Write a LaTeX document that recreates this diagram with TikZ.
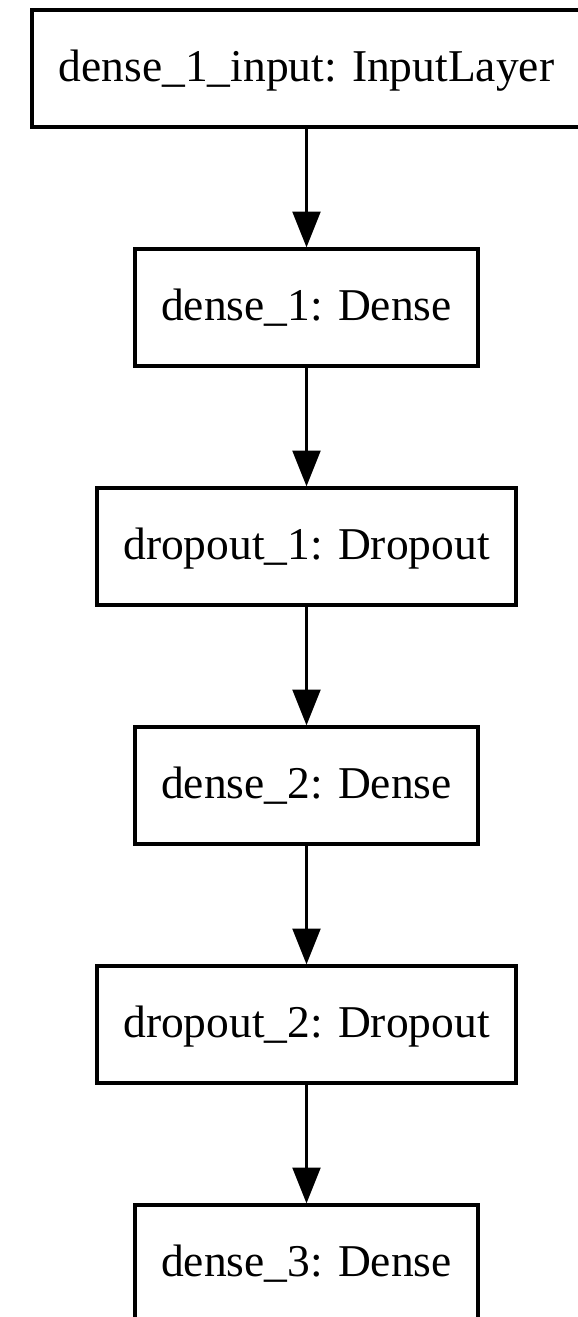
\documentclass[tikz,border=0pt]{standalone}
\usepackage{fontspec}
\setmainfont{Liberation Serif}
\usetikzlibrary{arrows.meta}
\begin{document}
\begin{tikzpicture}[x=0.30769pt, y=-0.30769pt,
  layer/.style={draw, line width=1pt, minimum height=36pt, inner sep=0pt, text height=11pt, text depth=3pt, font=\fontsize{14pt}{16pt}\selectfont, fill=white},
  wide/.style={layer, minimum width=168.9pt},
  mid/.style={layer, minimum width=128.9pt},
  narrow/.style={layer, minimum width=105.5pt},
  flow/.style={line width=1pt, -{Triangle[length=11pt, width=8.5pt]}}]
\useasboundingbox (0,0) rectangle (578,1317);
\node[wide]   (n1) at (306.5,68.5)   {dense\_1\_input: InputLayer};
\node[narrow] (n2) at (306.5,307.5)  {dense\_1: Dense};
\node[mid]    (n3) at (306.5,546.5)  {dropout\_1: Dropout};
\node[narrow] (n4) at (306.5,785.5)  {dense\_2: Dense};
\node[mid]    (n5) at (306.5,1024.5) {dropout\_2: Dropout};
\node[narrow] (n6) at (306.5,1263.5) {dense\_3: Dense};
\draw[flow] (n1) -- (n2);
\draw[flow] (n2) -- (n3);
\draw[flow] (n3) -- (n4);
\draw[flow] (n4) -- (n5);
\draw[flow] (n5) -- (n6);
\end{tikzpicture}
\end{document}
